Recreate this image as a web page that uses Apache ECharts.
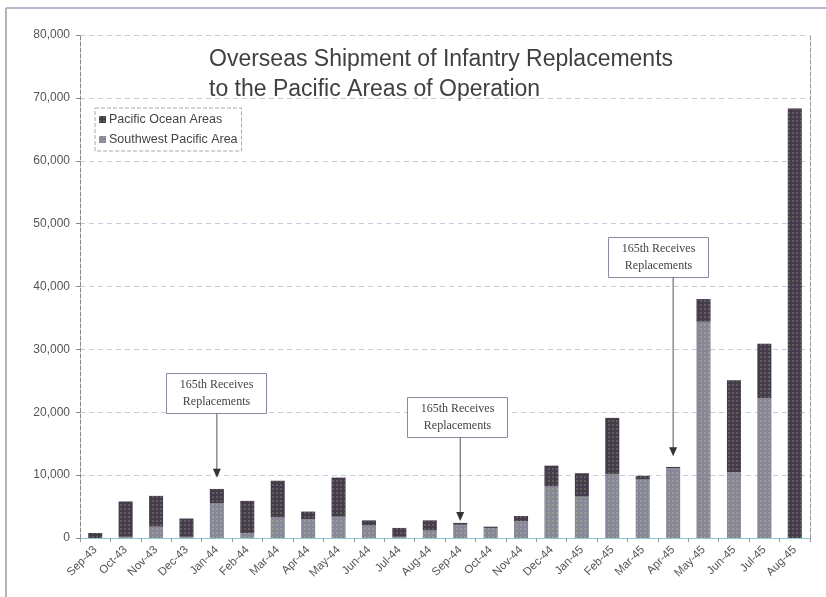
<!DOCTYPE html>
<html>
<head>
<meta charset="utf-8">
<script src="https://cdn.jsdelivr.net/npm/echarts@6/dist/echarts.min.js"></script>
<style>
html, body { margin: 0; padding: 0; background: #fff; }
#main { width: 826px; height: 597px; }
</style>
</head>
<body>
<div id="main"></div>
<script>
var months = ['Sep-43', 'Oct-43', 'Nov-43', 'Dec-43', 'Jan-44', 'Feb-44', 'Mar-44', 'Apr-44',
    'May-44', 'Jun-44', 'Jul-44', 'Aug-44', 'Sep-44', 'Oct-44', 'Nov-44', 'Dec-44',
    'Jan-45', 'Feb-45', 'Mar-45', 'Apr-45', 'May-45', 'Jun-45', 'Jul-45', 'Aug-45'];
var southwestPacific = [0, 200, 1800, 200, 5500, 800, 3300, 3000, 3400, 2000, 200, 1200,
    2100, 1600, 2700, 8200, 6600, 10200, 9300, 11100, 34400, 10500, 22200, 0];
var pacificOcean = [800, 5600, 4900, 2900, 2300, 5100, 5800, 1200, 6200, 800, 1400, 1600,
    300, 200, 800, 3300, 3700, 8900, 600, 200, 3600, 14600, 8700, 68300];

// annotations: month, arrow tip value, box top value
var noteMonths = ['Jan-44', 'Sep-44', 'Apr-45'];
var noteTip = [9600, 2700, 13000];
var noteTop = [26300, 22400, 47800];
var noteText = '165th Receives\nReplacements';

var myChart = echarts.init(document.getElementById('main'));

myChart.setOption({
    animation: false,
    backgroundColor: '#fff',
    title: {
        text: 'Overseas Shipment of Infantry Replacements\nto the Pacific Areas of Operation',
        left: 204,
        top: 40,
        textStyle: {
            fontFamily: 'Liberation Sans, Arial',
            fontSize: 23,
            fontWeight: 'normal',
            color: '#404040',
            lineHeight: 30
        }
    },
    legend: {
        data: ['Pacific Ocean Areas', 'Southwest Pacific Area'],
        orient: 'vertical',
        left: 95,
        top: 108,
        icon: 'rect',
        itemWidth: 7,
        itemHeight: 7,
        itemGap: 7,
        padding: [5, 4, 5, 4],
        borderColor: '#a8a8b8',
        borderWidth: 1,
        borderType: 'dashed',
        textStyle: { fontFamily: 'Liberation Sans, Arial', fontSize: 12.5, color: '#444', padding: [0, 0, 0, -2] }
    },
    grid: { left: 80, right: 16, top: 35, bottom: 59 },
    xAxis: {
        type: 'category',
        data: months,
        axisLine: { lineStyle: { color: '#8fc7d4', width: 1 } },
        axisTick: { show: true, length: 4, lineStyle: { color: '#999' } },
        axisLabel: {
            rotate: 45,
            fontFamily: 'Liberation Sans, Arial',
            fontSize: 11.5,
            color: '#555',
            margin: 10,
            interval: 0
        }
    },
    yAxis: [{
        type: 'value',
        min: 0,
        max: 80000,
        interval: 10000,
        axisLine: { show: true, lineStyle: { color: '#888', type: 'dashed' } },
        axisTick: { show: true, length: 4, lineStyle: { color: '#888' } },
        axisLabel: {
            fontFamily: 'Liberation Sans, Arial',
            fontSize: 12,
            color: '#555',
            margin: 10,
            formatter: function (v) { return v.toLocaleString('en-US'); }
        },
        splitLine: { lineStyle: { color: '#c9c9de', type: [5, 4] } }
    }, {
        type: 'value',
        position: 'right',
        min: 0,
        max: 80000,
        axisLine: { show: true, lineStyle: { color: '#999', type: 'dashed' } },
        axisTick: { show: false },
        axisLabel: { show: false },
        splitLine: { show: false }
    }],
    series: [{
        name: 'Southwest Pacific Area',
        type: 'bar',
        stack: 'total',
        barWidth: 14,
        data: southwestPacific,
        itemStyle: {
            color: '#8a8699',
            decal: {
                symbol: 'rect', symbolSize: 1,
                dashArrayX: [2, 2], dashArrayY: [2, 2],
                color: 'rgba(150,178,140,0.6)'
            }
        }
    }, {
        name: 'Pacific Ocean Areas',
        type: 'bar',
        stack: 'total',
        barWidth: 14,
        data: pacificOcean,
        itemStyle: {
            color: '#463a4c',
            decal: {
                symbol: 'rect', symbolSize: 1,
                dashArrayX: [2, 2], dashArrayY: [2, 2],
                color: 'rgba(105,120,92,0.65)'
            }
        }
    }]
});

// frame lines and annotation boxes with arrows
var boxShift = [-1, -3, -15];
var shapes = [
    { type: 'line', shape: { x1: 6, y1: 8, x2: 826, y2: 8 }, style: { stroke: '#a99cc2', lineWidth: 1.5 } },
    { type: 'line', shape: { x1: 6, y1: 8, x2: 6, y2: 597 }, style: { stroke: '#b4b4b4', lineWidth: 2 } }
];
noteMonths.forEach(function (m, i) {
    var idx = months.indexOf(m);
    var tip = myChart.convertToPixel({ xAxisIndex: 0, yAxisIndex: 0 }, [idx, noteTip[i]]);
    var top = myChart.convertToPixel({ xAxisIndex: 0, yAxisIndex: 0 }, [idx, noteTop[i]]);
    var bx = Math.round(tip[0] + boxShift[i] - 50) + 0.5;
    var by = Math.round(top[1]) + 0.5;
    shapes.push({ type: 'rect', shape: { x: bx, y: by, width: 100, height: 40 },
        style: { fill: '#fff', stroke: '#8c8aa0', lineWidth: 1 } });
    shapes.push({ type: 'text', x: bx + 50, y: by + 20,
        style: { text: noteText, fontFamily: 'Liberation Serif, Times New Roman', fontSize: 12,
            fill: '#444', align: 'center', verticalAlign: 'middle', lineHeight: 17 } });
    shapes.push({ type: 'line', shape: { x1: tip[0], y1: by + 40, x2: tip[0], y2: tip[1] - 8 },
        style: { stroke: '#555', lineWidth: 1 } });
    shapes.push({ type: 'polygon', shape: { points: [[tip[0] - 4, tip[1] - 9], [tip[0] + 4, tip[1] - 9], [tip[0], tip[1]]] },
        style: { fill: '#333' } });
});
myChart.setOption({ graphic: shapes });
</script>
</body>
</html>
